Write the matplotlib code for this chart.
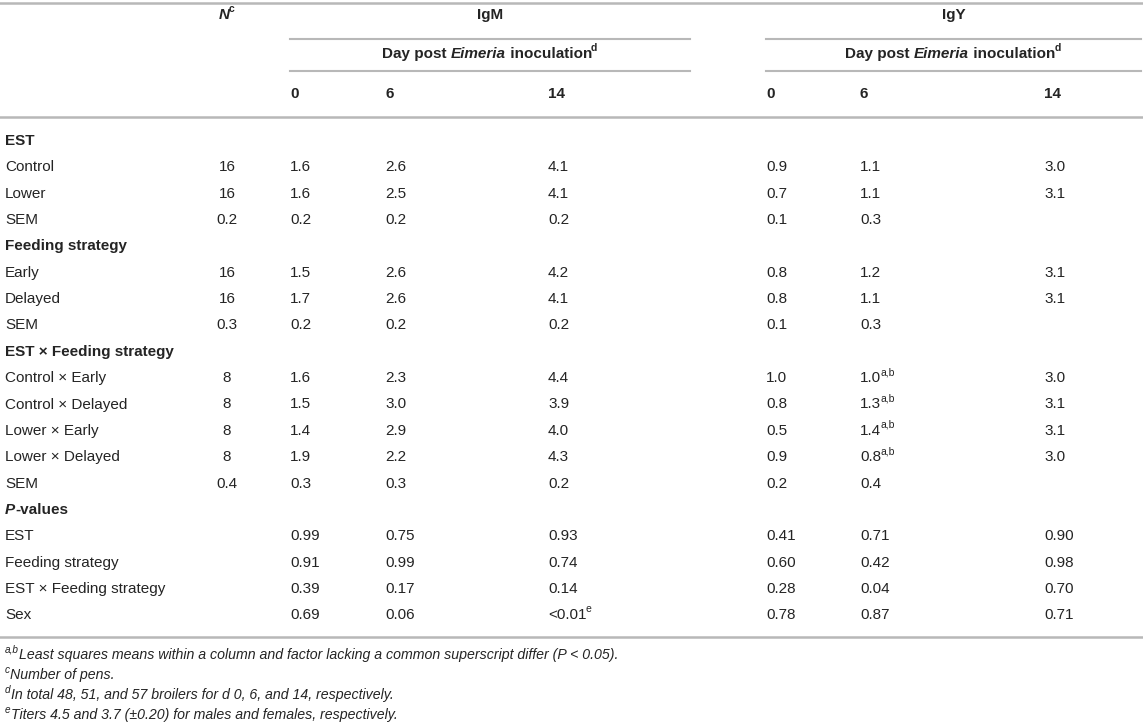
import matplotlib
matplotlib.use("Agg")
import matplotlib.pyplot as plt

plt.rcParams['font.family'] = ['Liberation Sans', 'DejaVu Sans']

# table content
row_labels = [
    "@EST", "Control", "Lower", "SEM",
    "@Feeding strategy", "Early", "Delayed", "SEM",
    "@EST × Feeding strategy", "Control × Early", "Control × Delayed",
    "Lower × Early", "Lower × Delayed", "SEM",
    "@P-values", "EST", "Feeding strategy", "EST × Feeding strategy", "Sex",
]
n_pens = ["", "16", "16", "0.2", "", "16", "16", "0.3", "", "8", "8", "8", "8", "0.4",
          "", "", "", "", ""]
igm_d0 = ["", "1.6", "1.6", "0.2", "", "1.5", "1.7", "0.2", "", "1.6", "1.5", "1.4", "1.9", "0.3",
          "", "0.99", "0.91", "0.39", "0.69"]
igm_d6 = ["", "2.6", "2.5", "0.2", "", "2.6", "2.6", "0.2", "", "2.3", "3.0", "2.9", "2.2", "0.3",
          "", "0.75", "0.99", "0.17", "0.06"]
igm_d14 = ["", "4.1", "4.1", "0.2", "", "4.2", "4.1", "0.2", "", "4.4", "3.9", "4.0", "4.3", "0.2",
           "", "0.93", "0.74", "0.14", "<0.01^e"]
igy_d0 = ["", "0.9", "0.7", "0.1", "", "0.8", "0.8", "0.1", "", "1.0", "0.8", "0.5", "0.9", "0.2",
          "", "0.41", "0.60", "0.28", "0.78"]
igy_d6 = ["", "1.1", "1.1", "0.3", "", "1.2", "1.1", "0.3", "", "1.0^a,b", "1.3^a,b", "1.4^a,b",
          "0.8^a,b", "0.4", "", "0.71", "0.42", "0.04", "0.87"]
igy_d14 = ["", "3.0", "3.1", "", "", "3.1", "3.1", "", "", "3.0", "3.1", "3.1", "3.0", "",
           "", "0.90", "0.98", "0.70", "0.71"]
day_labels = ["0", "6", "14"]
footnotes = [
    ("a,b", "Least squares means within a column and factor lacking a common superscript differ (P < 0.05)."),
    ("c", "Number of pens."),
    ("d", "In total 48, 51, and 57 broilers for d 0, 6, and 14, respectively."),
    ("e", "Titers 4.5 and 3.7 (±0.20) for males and females, respectively."),
]

W, H = 1143, 727
TXT = '#242424'
LINE = '#b8b8b8'
FS = 11.0
FS_SUP = 7.5

fig = plt.figure(figsize=(W / 100, H / 100), dpi=100)
ax = fig.add_axes([0, 0, 1, 1])
ax.set_xlim(0, W)
ax.set_ylim(H, 0)
ax.axis('off')
renderer = fig.canvas.get_renderer()


def runs(x, y, parts, ha='left'):
    # parts: list of (text, kwargs); superscripts carry 'sup': True
    objs = []
    for txt, kw in parts:
        kw = dict(kw)
        sup = kw.pop('sup', False)
        size = kw.pop('size', FS_SUP if sup else FS)
        yy = y - 6 if sup else y
        t = ax.text(0, yy, txt, fontsize=size, color=TXT, va='center', ha='left', **kw)
        objs.append((t, sup))
    widths = [o.get_window_extent(renderer).width for o, _ in objs]
    total = sum(widths)
    start = x - total / 2 if ha == 'center' else x
    for (o, sup), w in zip(objs, widths):
        if sup:
            start -= 1
        o.set_x(start)
        start += w


def cell(x, y, s, bold=False, ha='left'):
    if not s:
        return
    w = 'bold' if bold else 'normal'
    if '^' in s:
        base, sup = s.split('^')
        runs(x, y, [(base, {'weight': w}), (sup, {'weight': w, 'sup': True})], ha=ha)
    else:
        ax.text(x, y, s, fontsize=FS, color=TXT, ha=ha, va='center', weight=w)


# column positions (N centred, the rest left edges)
x_label = 5
x_n = 227
igm_x = [290, 385, 548]
igy_x = [766, 860, 1044]
igm_span = (290, 690)
igy_span = (766, 1141)

# header
ax.plot([0, W], [3, 3], color=LINE, lw=1.8)
ax.plot([0, W], [117, 117], color=LINE, lw=1.8)
for span in (igm_span, igy_span):
    ax.plot(span, [39, 39], color=LINE, lw=1.5)
    ax.plot(span, [71, 71], color=LINE, lw=1.5)

runs(x_n, 15, [("N", {'weight': 'bold', 'style': 'italic'}), ("c", {'weight': 'bold', 'sup': True})],
     ha='center')
for name, span in (("IgM", igm_span), ("IgY", igy_span)):
    cx = sum(span) / 2
    ax.text(cx, 15, name, fontsize=FS, color=TXT, ha='center', va='center', weight='bold')
    runs(cx, 54, [("Day post ", {'weight': 'bold'}),
                  ("Eimeria", {'weight': 'bold', 'style': 'italic'}),
                  (" inoculation", {'weight': 'bold'}),
                  ("d", {'weight': 'bold', 'sup': True})], ha='center')
for xs in (igm_x, igy_x):
    for xx, d in zip(xs, day_labels):
        cell(xx, 94, d, bold=True)

# body
y0, dy = 141, 26.35
for i, lab in enumerate(row_labels):
    y = y0 + i * dy
    if lab.startswith('@'):
        lab = lab[1:]
        if lab == "P-values":
            runs(x_label, y, [("P", {'weight': 'bold', 'style': 'italic'}), ("-values", {'weight': 'bold'})])
        else:
            ax.text(x_label, y, lab, fontsize=FS, color=TXT, ha='left', va='center', weight='bold')
        continue
    ax.text(x_label, y, lab, fontsize=FS, color=TXT, ha='left', va='center')
    cell(x_n, y, n_pens[i], ha='center')
    for xx, col in zip(igm_x, (igm_d0, igm_d6, igm_d14)):
        cell(xx, y, col[i])
    for xx, col in zip(igy_x, (igy_d0, igy_d6, igy_d14)):
        cell(xx, y, col[i])

ax.plot([0, W], [637, 637], color=LINE, lw=1.8)

# footnotes
for k, (mark, note) in enumerate(footnotes):
    y = 655 + k * 20
    t1 = ax.text(5, y - 5, mark, fontsize=7.2, color=TXT, style='italic', ha='left', va='center')
    w1 = t1.get_window_extent(renderer).width
    ax.text(5 + w1, y, note, fontsize=10.2, color=TXT, style='italic', ha='left', va='center')

fig.savefig('out.png', dpi=100)
